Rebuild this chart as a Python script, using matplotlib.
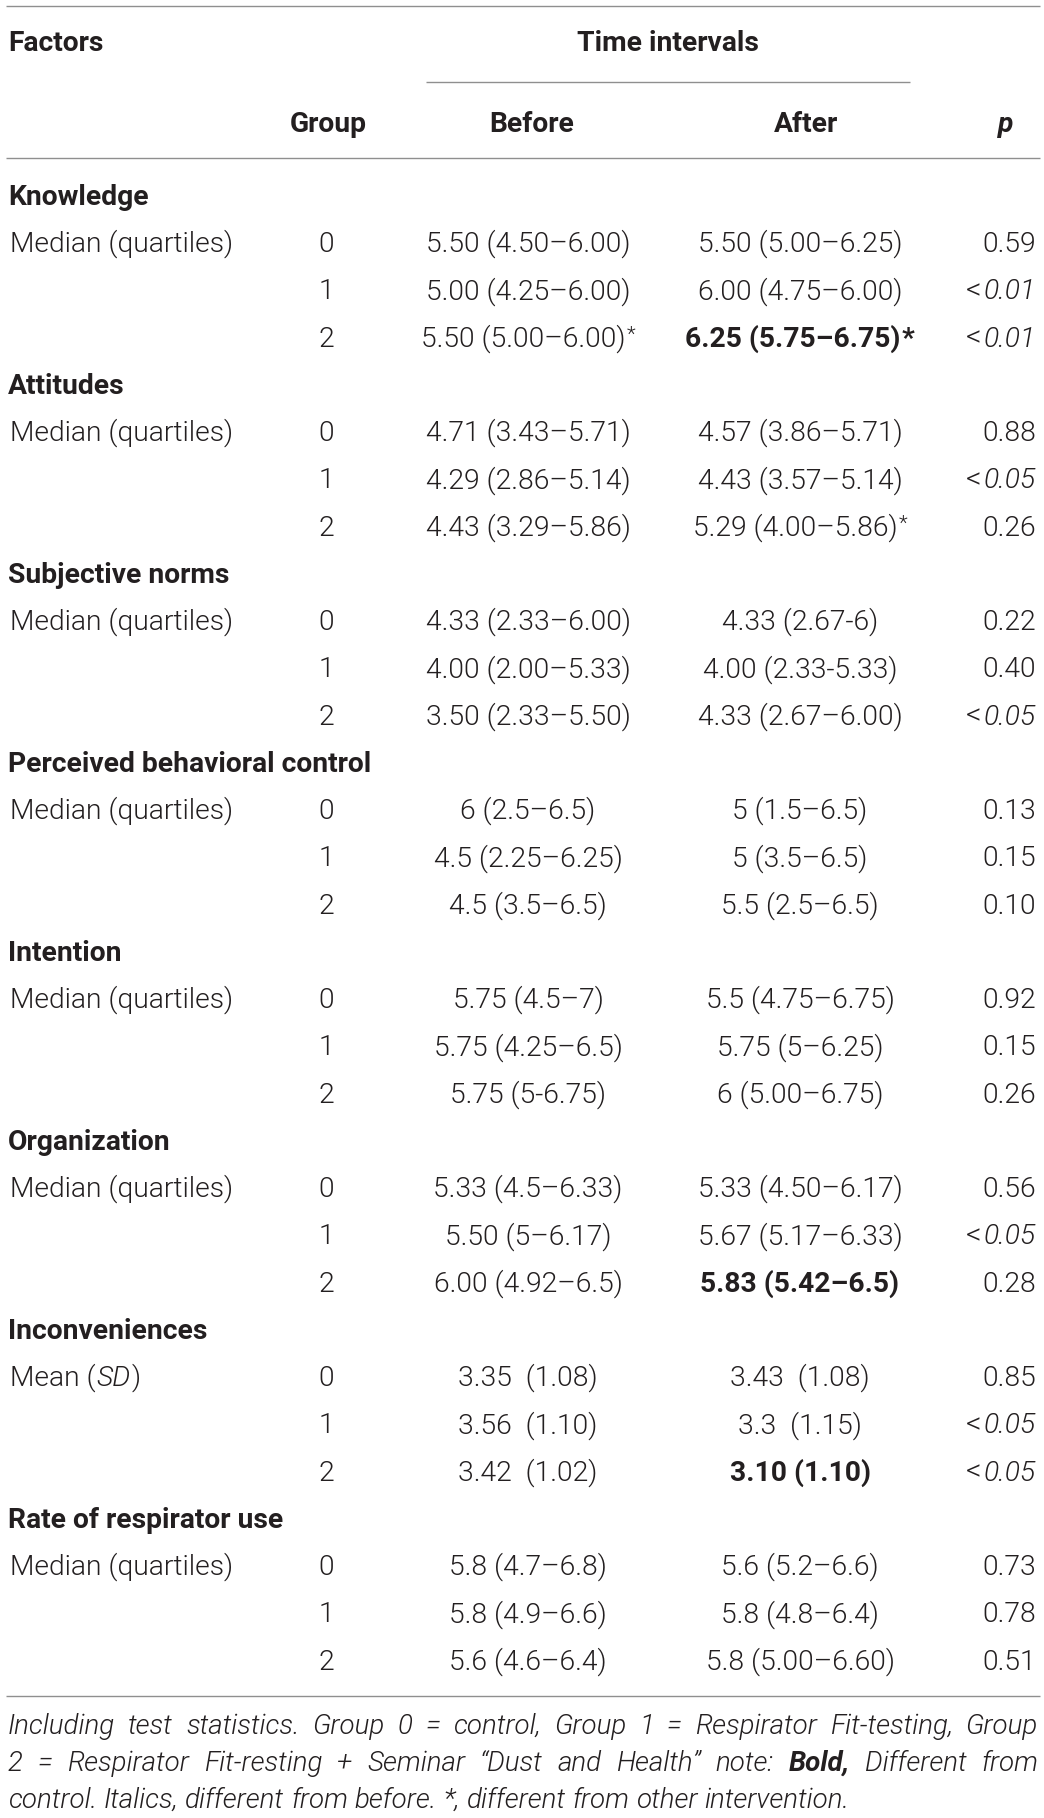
import matplotlib
matplotlib.use("Agg")
import matplotlib.pyplot as plt

# ---------------- data ----------------
header_factors = "Factors"
header_time = "Time intervals"
col_headers = ["Group", "Before", "After", "p"]

sections = ["Knowledge", "Attitudes", "Subjective norms",
            "Perceived behavioral control", "Intention", "Organization",
            "Inconveniences", "Rate of respirator use"]
stat_labels = ["Median (quartiles)"] * 6 + ["Mean (SD)", "Median (quartiles)"]
groups = ["0", "1", "2"]

before = [
    ["5.50 (4.50–6.00)", "5.00 (4.25–6.00)", "5.50 (5.00–6.00)*"],
    ["4.71 (3.43–5.71)", "4.29 (2.86–5.14)", "4.43 (3.29–5.86)"],
    ["4.33 (2.33–6.00)", "4.00 (2.00–5.33)", "3.50 (2.33–5.50)"],
    ["6 (2.5–6.5)", "4.5 (2.25–6.25)", "4.5 (3.5–6.5)"],
    ["5.75 (4.5–7)", "5.75 (4.25–6.5)", "5.75 (5-6.75)"],
    ["5.33 (4.5–6.33)", "5.50 (5–6.17)", "6.00 (4.92–6.5)"],
    ["3.35  (1.08)", "3.56  (1.10)", "3.42  (1.02)"],
    ["5.8 (4.7–6.8)", "5.8 (4.9–6.6)", "5.6 (4.6–6.4)"],
]
after = [
    ["5.50 (5.00–6.25)", "6.00 (4.75–6.00)", "6.25 (5.75–6.75)*"],
    ["4.57 (3.86–5.71)", "4.43 (3.57–5.14)", "5.29 (4.00–5.86)*"],
    ["4.33 (2.67-6)", "4.00 (2.33-5.33)", "4.33 (2.67–6.00)"],
    ["5 (1.5–6.5)", "5 (3.5–6.5)", "5.5 (2.5–6.5)"],
    ["5.5 (4.75–6.75)", "5.75 (5–6.25)", "6 (5.00–6.75)"],
    ["5.33 (4.50–6.17)", "5.67 (5.17–6.33)", "5.83 (5.42–6.5)"],
    ["3.43  (1.08)", "3.3  (1.15)", "3.10 (1.10)"],
    ["5.6 (5.2–6.6)", "5.8 (4.8–6.4)", "5.8 (5.00–6.60)"],
]
p_values = [
    ["0.59", "<0.01", "<0.01"],
    ["0.88", "<0.05", "0.26"],
    ["0.22", "0.40", "<0.05"],
    ["0.13", "0.15", "0.10"],
    ["0.92", "0.15", "0.26"],
    ["0.56", "<0.05", "0.28"],
    ["0.85", "<0.05", "<0.05"],
    ["0.73", "0.78", "0.51"],
]
bold_after = [(0, 2), (5, 2), (6, 2)]

footnote_lines = [
    "Including test statistics. Group 0 = control, Group 1 = Respirator Fit-testing, Group",
    "2 = Respirator Fit-resting + Seminar “Dust and Health” note: **Bold,** Different from",
    "control. Italics, different from before. *, different from other intervention.",
]
footnote_justify = [True, True, False]

# ---------------- style / layout ----------------
W, H = 1044, 1818
FAM = ["Roboto", "DejaVu Sans"]
LIGHT = 300
BOLD = 700
FS = 20.3
FS_NOTE = 20.0
TXT = "#231f20"
LINE = "#8f8f8f"

X_LEFT = 8
X_LABEL = 10
X_GROUP = 326
X_BEFORE = 528
X_AFTER = 800
X_P = 1036
LINE_X0, LINE_X1 = 6, 1040

Y_TOPLINE = 6
Y_HEAD1 = 41
Y_SUBLINE = 82
Y_HEAD2 = 122
Y_HEADLINE = 158
Y_FIRST = 195
PITCH = 47.25
Y_BOTLINE = 1696
Y_NOTE = [1734, 1771, 1808]
BASE = 9.8  # center -> baseline offset

fig = plt.figure(figsize=(W / 100, H / 100), dpi=100)
ax = fig.add_axes([0, 0, 1, 1])
ax.set_xlim(0, W)
ax.set_ylim(H, 0)
ax.axis("off")
renderer = fig.canvas.get_renderer()


def rich(x, y, segs, ha="left"):
    objs = []
    for txt, st in segs:
        t = ax.text(0, y + st.get("dy", 0), txt, fontsize=st.get("size", FS),
                    family=FAM, weight=st.get("weight", LIGHT),
                    style=st.get("style", "normal"), color=TXT,
                    va="baseline", ha="left")
        objs.append(t)
    widths = [t.get_window_extent(renderer).width for t in objs]
    pads = [st.get("pad", 0) for _, st in segs]
    total = sum(widths) + sum(pads)
    if ha == "center":
        cur = x - total / 2
    elif ha == "right":
        cur = x - total
    else:
        cur = x
    for t, w, p in zip(objs, widths, pads):
        cur += p
        t.set_x(cur)
        cur += w
    return objs


def cell_segments(s, bold):
    w = BOLD if bold else LIGHT
    if s.endswith("*"):
        core = s[:-1]
        if bold:
            return [(core, {"weight": w}), ("*", {"weight": w, "pad": 1})]
        return [(core, {"weight": w}),
                ("*", {"weight": w, "size": FS * 0.72, "dy": -6, "pad": 1})]
    return [(s, {"weight": w})]


def p_segments(s):
    if s.startswith("<"):
        return [("<", {"size": FS * 1.08}), (s[1:], {"style": "italic", "pad": 2})]
    return [(s, {})]


def label_segments(s):
    if "(SD)" in s:
        a, b = s.split("(SD)")
        return [(a + "(", {}), ("SD", {"style": "italic", "pad": 1}), (")" + b, {"pad": 1})]
    return [(s, {})]


# ---------------- lines ----------------
for yy in (Y_TOPLINE, Y_HEADLINE, Y_BOTLINE):
    ax.plot([LINE_X0, LINE_X1], [yy, yy], color=LINE, lw=1.0, solid_capstyle="butt")
ax.plot([426, 910], [Y_SUBLINE, Y_SUBLINE], color=LINE, lw=1.0, solid_capstyle="butt")

# ---------------- headers ----------------
rich(X_LEFT, Y_HEAD1 + BASE, [(header_factors, {"weight": BOLD})])
rich(668, Y_HEAD1 + BASE, [(header_time, {"weight": BOLD})], ha="center")
head_x = [328, 532, 806, 1006]
for hx, hd in zip(head_x, col_headers):
    st = {"weight": BOLD}
    if hd == "p":
        st["style"] = "italic"
    rich(hx, Y_HEAD2 + BASE, [(hd, st)], ha="center")

# ---------------- body ----------------
for i, sec in enumerate(sections):
    ys = Y_FIRST + i * 4 * PITCH
    rich(X_LEFT, ys + BASE, [(sec, {"weight": BOLD})])
    for g in range(3):
        yr = ys + (g + 1) * PITCH + BASE
        if g == 0:
            rich(X_LABEL, yr, label_segments(stat_labels[i]))
        rich(X_GROUP, yr, [(groups[g], {})], ha="center")
        rich(X_BEFORE, yr, cell_segments(before[i][g], False), ha="center")
        rich(X_AFTER, yr, cell_segments(after[i][g], (i, g) in bold_after), ha="center")
        rich(X_P, yr, p_segments(p_values[i][g]), ha="right")

# ---------------- footnote ----------------
sp = ax.text(0, 0, "a a", fontsize=FS_NOTE, family=FAM, weight=LIGHT, style="italic")
sp2 = ax.text(0, 0, "aa", fontsize=FS_NOTE, family=FAM, weight=LIGHT, style="italic")
natural_gap = sp.get_window_extent(renderer).width - sp2.get_window_extent(renderer).width
sp.remove()
sp2.remove()

for line, just, yb in zip(footnote_lines, footnote_justify, Y_NOTE):
    words = line.split(" ")
    objs = []
    for wd in words:
        weight = LIGHT
        if wd.startswith("**"):
            wd = wd.strip("*")
            weight = BOLD
        t = ax.text(0, yb, wd, fontsize=FS_NOTE, family=FAM, weight=weight,
                    style="italic", color=TXT, va="baseline", ha="left")
        objs.append(t)
    widths = [t.get_window_extent(renderer).width for t in objs]
    if just:
        gap = (LINE_X1 - 2 - X_LEFT - sum(widths)) / (len(objs) - 1)
    else:
        gap = natural_gap
    cur = X_LEFT
    for t, w in zip(objs, widths):
        t.set_x(cur)
        cur += w + gap

fig.savefig("out.png", dpi=100, facecolor="white")
